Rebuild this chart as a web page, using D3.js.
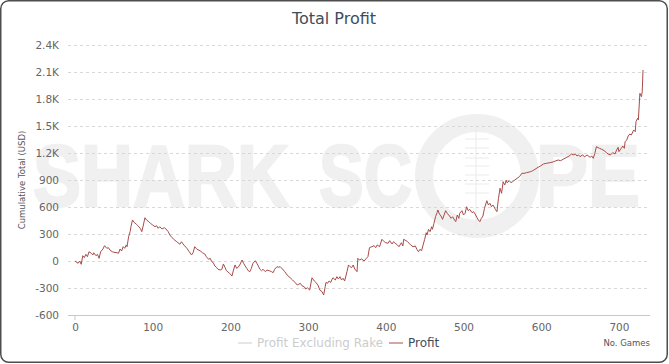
<!DOCTYPE html>
<html><head><meta charset="utf-8">
<script src="https://cdn.jsdelivr.net/npm/d3@7"></script>
<style>html,body{margin:0;padding:0;background:#fff;}svg{display:block;}</style>
</head><body>
<svg id="c" width="669" height="364"></svg>
<script>
const games = [0,4,6,8,10,12,14,16,18,21,23,24,27,29,31,33,36,38,41,43,45,48,50,54,56,58,60,62,64,66,67,69,71,72,74,76,79,81,84,86,88,90,92,95,97,100,103,105,107,109,112,115,117,120,122,127,131,135,137,140,144,147,150,152,154,157,161,164,167,169,172,174,176,178,180,182,184,187,189,191,193,195,199,202,204,206,208,210,212,215,217,219,221,223,225,227,229,232,234,236,238,240,242,245,247,250,253,255,257,260,262,264,267,270,273,277,280,283,286,290,292,295,297,299,302,305,308,310,313,315,318,320,322,323,325,327,329,331,332,335,337,339,341,343,345,347,350,352,354,356,358,360,363,364,366,369,372,375,377,379,382,385,387,389,392,395,398,400,403,405,408,410,412,415,417,420,422,423,426,428,430,432,435,438,440,442,444,446,448,450,452,453,455,457,459,460,462,464,466,467,469,471,473,475,477,479,482,484,486,489,490,492,494,495,498,500,502,504,506,508,511,513,515,517,519,521,523,525,527,530,532,534,536,538,541,543,545,547,549,551,553,555,556,559,561,563,566,569,572,575,578,581,586,589,592,596,599,603,607,611,616,619,622,625,628,633,636,639,641,644,646,648,650,653,656,659,663,665,667,669,671,675,678,681,684,686,689,692,695,697,699,700,703,705,707,708,710,712,714,716,719,721,722,724,725,727,729,730,731];
const profit = [0,-26,0,-37,59,37,74,48,103,86,67,92,59,74,30,103,133,170,141,148,122,103,97,92,86,133,111,159,141,178,159,270,326,381,456,430,408,392,363,326,400,481,456,437,419,400,381,392,363,381,356,370,356,326,289,241,214,186,214,178,141,103,67,92,159,130,114,92,78,48,19,30,-8,-19,-56,-70,-92,-100,-92,-33,-70,-108,-137,-167,-100,-44,-81,-70,-44,11,-26,-56,-81,-108,-119,-81,-26,3,-26,-56,-92,-108,-92,-119,-100,-108,-119,-130,-92,-63,-70,-63,-89,-119,-156,-186,-211,-237,-267,-248,-274,-286,-311,-297,-322,-186,-222,-237,-274,-322,-341,-378,-286,-237,-248,-222,-237,-200,-186,-211,-174,-200,-174,-211,-192,-222,-119,-44,-63,-74,-44,-89,-119,30,11,22,0,30,48,148,159,170,148,178,159,241,214,203,197,226,189,214,197,178,159,203,167,241,226,214,197,178,159,167,130,103,130,114,178,241,314,289,352,326,381,352,419,492,537,567,522,500,463,511,559,530,500,474,492,448,437,511,474,530,559,511,530,603,559,574,537,548,522,486,456,437,474,500,586,670,622,641,603,622,574,548,697,808,752,881,844,900,870,892,870,881,900,919,937,974,974,981,992,1003,1019,1041,1056,1078,1086,1092,1103,1114,1122,1114,1130,1152,1167,1189,1178,1189,1167,1178,1159,1178,1159,1178,1152,1167,1141,1196,1270,1252,1241,1226,1204,1189,1178,1204,1189,1233,1263,1215,1252,1278,1252,1326,1344,1389,1411,1400,1456,1437,1548,1585,1567,1863,1826,1881,2122];
const yTickValues = [-600,-300,0,300,600,900,1200,1500,1800,2100,2400];
const yTickLabels = ["-600","-300","0","300","600","900","1.2K","1.5K","1.8K","2.1K","2.4K"];
const xTickValues = [0,100,200,300,400,500,600,700];
const legendItems = ["Profit Excluding Rake","Profit"];

const svg = d3.select("#c");
const font = "'DejaVu Sans', Verdana, sans-serif";
const pL = 68, pR = 650, pT = 45, pB = 315;
const x = d3.scaleLinear().domain([-9, 740]).range([pL, pR]);
const y = d3.scaleLinear().domain([-600, 2400]).range([pB, pT]);

// border
svg.append("rect").attr("x",0.75).attr("y",0.75).attr("width",666.5).attr("height",361.5)
  .attr("rx",8).attr("fill","#fff").attr("stroke","#4d4d4d").attr("stroke-width",1.5);

// watermark
const wm = svg.append("g").attr("fill","#f0f0f0").attr("stroke","#f0f0f0").attr("stroke-width",2.5)
  .attr("font-family","'Liberation Sans', Arial, sans-serif").attr("font-weight","bold").attr("font-size",88);
wm.append("text").attr("x",33).attr("y",206).attr("textLength",256).attr("lengthAdjust","spacingAndGlyphs").text("SHARK");
wm.append("text").attr("x",319).attr("y",206).attr("textLength",93).attr("lengthAdjust","spacingAndGlyphs").text("SC");
wm.append("text").attr("x",536).attr("y",206).attr("textLength",104).attr("lengthAdjust","spacingAndGlyphs").text("PE");
svg.append("circle").attr("cx",477).attr("cy",176).attr("r",53).attr("fill","none").attr("stroke","#f0f0f0").attr("stroke-width",18);
svg.append("line").attr("x1",476).attr("x2",476).attr("y1",124).attr("y2",228).attr("stroke","#ebebeb").attr("stroke-width",1);
[139,148,158,166,175,184,193].forEach(v=>{
  svg.append("line").attr("x1",465).attr("x2",489).attr("y1",v).attr("y2",v).attr("stroke","#ebebeb").attr("stroke-width",1);
});

// title
svg.append("text").attr("x",334).attr("y",24).attr("text-anchor","middle")
  .attr("font-family",font).attr("font-size",16).attr("fill","#3e4d5c").text("Total Profit");

// grid + y labels
const yAxis = d3.axisLeft(y).tickValues(yTickValues).tickSize(0)
  .tickFormat((d,i)=>yTickLabels[i]);
const gy = svg.append("g").attr("transform",`translate(${pL-6},0)`).call(yAxis);
gy.select(".domain").remove();
gy.selectAll("text").attr("font-family",font).attr("font-size",10.5).attr("fill","#666").attr("dx",0);

const grid = svg.append("g");
grid.selectAll("line").data(yTickValues.filter(v=>v>-600)).join("line")
  .attr("x1",pL).attr("x2",pR).attr("y1",d=>Math.round(y(d))+0.5).attr("y2",d=>Math.round(y(d))+0.5)
  .attr("stroke","#d8d8d8").attr("stroke-width",1).attr("stroke-dasharray","3,3");

// x axis
const xAxis = d3.axisBottom(x).tickValues(xTickValues).tickSize(0).tickPadding(8).tickFormat(d3.format("d"));
const gx = svg.append("g").attr("transform",`translate(0,${pB+0.5})`).call(xAxis);
gx.select(".domain").attr("stroke","#c8c8c8").attr("d",`M${pL},0H${pR}`);
gx.selectAll("text").attr("font-family",font).attr("font-size",10.5).attr("fill","#666");
svg.append("line").attr("x1",x(0)).attr("x2",x(0)).attr("y1",pB).attr("y2",pB+5).attr("stroke","#c8c8c8");

// y axis title
svg.append("text").attr("transform","translate(25,180) rotate(-90)").attr("text-anchor","middle")
  .attr("font-family",font).attr("font-size",8.5).attr("fill","#555").text("Cumulative Total (USD)");

// x axis title
svg.append("text").attr("x",650).attr("y",346).attr("text-anchor","end")
  .attr("font-family",font).attr("font-size",8.5).attr("fill","#555").text("No. Games");

// line
const n = Math.min(games.length, profit.length);
const pts = games.slice(0,n).map((g,i)=>[g,profit[i]]);
svg.append("path").datum(pts).attr("fill","none").attr("stroke","#a84c49").attr("stroke-width",1)
  .attr("stroke-linejoin","round")
  .attr("d", d3.line().x(d=>x(d[0])).y(d=>y(d[1])));

// legend
const lg = svg.append("g").attr("font-family",font).attr("font-size",12);
lg.append("line").attr("x1",238).attr("x2",252).attr("y1",343).attr("y2",343).attr("stroke","#cccccc");
lg.append("text").attr("x",257).attr("y",347).attr("fill","#cccccc").attr("textLength",126).attr("lengthAdjust","spacingAndGlyphs").text(legendItems[0]);
lg.append("line").attr("x1",389).attr("x2",403).attr("y1",343).attr("y2",343).attr("stroke","#a84c49");
lg.append("text").attr("x",408).attr("y",347).attr("fill","#3e4d5c").text(legendItems[1]);
</script>
</body></html>
